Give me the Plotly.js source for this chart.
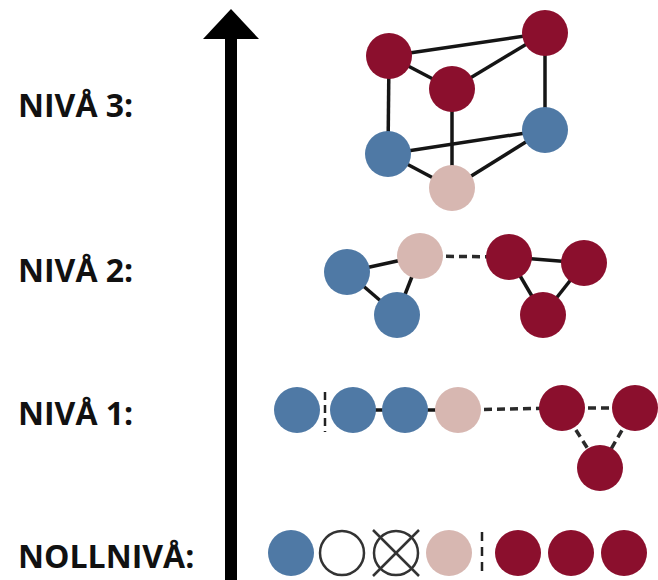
<!DOCTYPE html>
<html>
<head>
<meta charset="utf-8">
<script src="https://cdn.plot.ly/plotly-3.0.1.min.js"></script>
<style>html,body{margin:0;padding:0;background:#fff;}#chart{width:658px;height:580px;}</style>
</head>
<body>
<div id="chart"></div>
<script>
// ---- Data ----
const levelLabels = ["NIVÅ 3:", "NIVÅ 2:", "NIVÅ 1:", "NOLLNIVÅ:"];
const labelY = [104, 269, 412, 555];

// Node kinds: B = blue, P = pink, R = dark red, O = open circle, X = crossed circle
const level3X = [389, 545, 452, 388, 545, 452];
const level3Y = [56, 33, 89, 154, 130, 188];
const level3Kind = ["R", "R", "R", "B", "B", "P"];
const level3Solid = [[0,1],[0,2],[2,1],[0,3],[1,4],[2,5],[3,4],[3,5],[5,4]];
const level3Dashed = [];

const level2X = [347, 397, 420, 509, 584, 543];
const level2Y = [272, 315, 256, 257, 263, 315];
const level2Kind = ["B", "B", "P", "R", "R", "R"];
const level2Solid = [[0,2],[0,1],[1,2],[3,4],[3,5],[4,5]];
const level2Dashed = [[2,3]];

const level1X = [297, 353, 405, 458, 562, 635, 600];
const level1Y = [410, 410, 410, 410, 408, 408, 468];
const level1Kind = ["B", "B", "B", "P", "R", "R", "R"];
const level1Solid = [[1,2],[2,3]];
const level1Dashed = [[3,4],[4,5],[4,6],[5,6]];
const level1SepX = 325;

const level0X = [291, 342, 396, 449, 518, 571, 624];
const level0Y = [553, 553, 553, 553, 553, 553, 553];
const level0Kind = ["B", "O", "X", "P", "R", "R", "R"];
const level0SepX = 482;

// ---- Styles ----
const colors = { B: "#4f79a5", P: "#d7b7b1", R: "#8b0f2d" };
const R = 23;

const levels = [
  { x: level3X, y: level3Y, kind: level3Kind, solid: level3Solid, dashed: level3Dashed },
  { x: level2X, y: level2Y, kind: level2Kind, solid: level2Solid, dashed: level2Dashed },
  { x: level1X, y: level1Y, kind: level1Kind, solid: level1Solid, dashed: level1Dashed },
  { x: level0X, y: level0Y, kind: level0Kind, solid: [], dashed: [] }
];

function edgeXY(lv, pairs) {
  const xs = [], ys = [];
  pairs.forEach(([a, b]) => {
    xs.push(lv.x[a], lv.x[b], null);
    ys.push(lv.y[a], lv.y[b], null);
  });
  return { xs, ys };
}

const traces = [];
levels.forEach(lv => {
  const s = edgeXY(lv, lv.solid);
  if (s.xs.length) traces.push({ x: s.xs, y: s.ys, mode: "lines", line: { color: "#151515", width: 3.5 }, hoverinfo: "skip" });
  const d = edgeXY(lv, lv.dashed);
  if (d.xs.length) traces.push({ x: d.xs, y: d.ys, mode: "lines", line: { color: "#2a2a2a", width: 3.5, dash: "8px,5px" }, hoverinfo: "skip" });
});

// separators (vertical dashed)
traces.push({ x: [level1SepX, level1SepX], y: [level1Y[0] - 18, level1Y[0] + 22], mode: "lines",
  line: { color: "#222", width: 2.5, dash: "8px,5px" }, hoverinfo: "skip" });
traces.push({ x: [level0SepX, level0SepX], y: [level0Y[0] - 21, level0Y[0] + 20], mode: "lines",
  line: { color: "#222", width: 2.5, dash: "9px,6px" }, hoverinfo: "skip" });

// crossed circle X lines
levels[3].kind.forEach((k, i) => {
  if (k === "X") {
    const cx = level0X[i], cy = level0Y[i];
    traces.push({ x: [cx - R, cx + R, null, cx - R, cx + R], y: [cy - R, cy + R, null, cy + R, cy - R],
      mode: "lines", line: { color: "#333", width: 2.5 }, hoverinfo: "skip" });
  }
});

// nodes
levels.forEach(lv => {
  const filled = lv.kind.map((k, i) => i).filter(i => colors[lv.kind[i]]);
  traces.push({
    x: filled.map(i => lv.x[i]), y: filled.map(i => lv.y[i]), mode: "markers",
    marker: { size: 2 * R, color: filled.map(i => colors[lv.kind[i]]), line: { width: 0 } },
    hoverinfo: "skip"
  });
  const open = lv.kind.map((k, i) => i).filter(i => lv.kind[i] === "O" || lv.kind[i] === "X");
  if (open.length) traces.push({
    x: open.map(i => lv.x[i]), y: open.map(i => lv.y[i]), mode: "markers",
    marker: { size: 2 * R - 2, color: "rgba(0,0,0,0)", line: { width: 2.5, color: "#333" } },
    hoverinfo: "skip"
  });
});

const annotations = levelLabels.map((t, i) => ({
  x: 16, y: labelY[i], xref: "x", yref: "y", xanchor: "left", yanchor: "middle",
  text: t, showarrow: false,
  font: { family: "Open Sans", size: 32, color: "#111", weight: "bold" }
}));

const shapes = [
  { type: "rect", xref: "x", yref: "y", x0: 225, x1: 237, y0: 36, y1: 580, fillcolor: "#000", line: { width: 0 } },
  { type: "path", xref: "x", yref: "y", path: "M 231 9 L 203 39 L 259 39 Z", fillcolor: "#000", line: { width: 0 } }
];

const layout = {
  width: 658, height: 580,
  margin: { l: 0, r: 0, t: 0, b: 0, pad: 0 },
  paper_bgcolor: "#fff", plot_bgcolor: "#fff",
  showlegend: false,
  xaxis: { range: [0, 658], visible: false, fixedrange: true },
  yaxis: { range: [580, 0], visible: false, fixedrange: true },
  annotations, shapes
};

Plotly.newPlot("chart", traces, layout, { staticPlot: true, displayModeBar: false });
</script>
</body>
</html>
